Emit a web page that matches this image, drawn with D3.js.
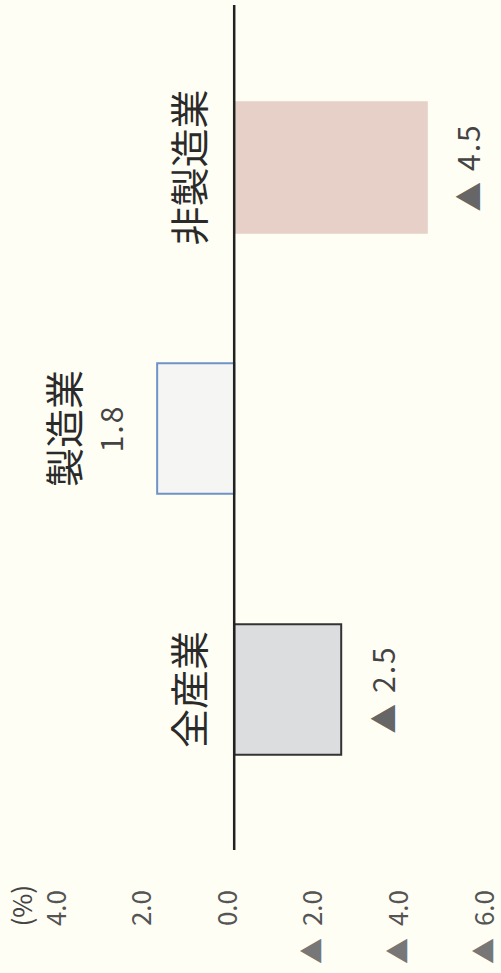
<!DOCTYPE html>
<html>
<head>
<meta charset="utf-8">
<script src="https://cdn.jsdelivr.net/npm/d3@7"></script>
<style>
  body { margin: 0; background: #fffef4; }
  svg { display: block; }
  text { font-family: "Noto Sans CJK JP", "Noto Sans", sans-serif; }
</style>
</head>
<body>
<svg width="501" height="973"></svg>
<script>
var categories = ['全産業', '製造業', '非製造業'];
var values = [-2.5, 1.8, -4.5];
var tickValues = [4, 2, 0, -2, -4, -6];
var unitLabel = '(%)';

var fills = ['#dcdddf', '#f5f6f4', '#e6d0c8'];
var strokes = ['#333333', '#6f93c6', '#e6d0c8'];

var svg = d3.select('svg');

// chart is drawn upright in a 973x501 frame, then turned a quarter left
var g = svg.append('g')
    .attr('transform', 'translate(0,973) rotate(-90)');

var x = d3.scaleBand()
    .domain(categories)
    .range([153, 936])
    .paddingInner(0.5)
    .paddingOuter(0.25);

var y = d3.scaleLinear()
    .domain([-6, 4])
    .range([491, 63]);

function fmt(v) {
    return Math.abs(v).toFixed(1);
}

var axis = g.append('g')
    .attr('transform', 'translate(90,0)')
    .call(d3.axisLeft(y).tickValues(tickValues).tickSize(0).tickPadding(7)
        .tickFormat(function (d) { return fmt(d); }));
axis.select('.domain').remove();
axis.selectAll('text')
    .attr('font-size', 26)
    .attr('fill', '#555')
    .attr('dy', '0.08em')
    .each(function (d) {
        if (d < 0) {
            var t = d3.select(this);
            var s = t.text();
            t.text('');
            t.append('tspan').attr('fill', '#777').text('▲');
            t.append('tspan').attr('dx', 12).text(s);
        }
    });

g.append('text')
    .attr('x', 88)
    .attr('y', 23)
    .attr('dy', '0.35em')
    .attr('text-anchor', 'end')
    .attr('font-size', 26)
    .attr('fill', '#444')
    .text(unitLabel);

var data = categories.map(function (c, i) { return { cat: c, v: values[i] }; });

g.selectAll('.bar')
    .data(data)
    .enter().append('rect')
    .attr('class', 'bar')
    .attr('x', function (d) { return x(d.cat); })
    .attr('width', x.bandwidth())
    .attr('y', function (d) { return y(Math.max(0, d.v)); })
    .attr('height', function (d) { return Math.abs(y(d.v) - y(0)); })
    .attr('fill', function (d, i) { return fills[i]; })
    .attr('stroke', function (d, i) { return strokes[i]; })
    .attr('stroke-width', 2);

g.append('line')
    .attr('x1', 123)
    .attr('x2', 968)
    .attr('y1', y(0))
    .attr('y2', y(0))
    .attr('stroke', '#222')
    .attr('stroke-width', 2.5);

// value labels
g.selectAll('.val')
    .data(data)
    .enter().append('text')
    .attr('class', 'val')
    .attr('x', function (d) { return x(d.cat) + x.bandwidth() / 2; })
    .attr('y', function (d) { return d.v < 0 ? y(d.v) + 43 : y(d.v) - 45; })
    .attr('dy', '0.35em')
    .attr('text-anchor', 'middle')
    .attr('font-size', 30)
    .attr('letter-spacing', 2)
    .attr('fill', '#444')
    .each(function (d) {
        var t = d3.select(this);
        if (d.v < 0) t.append('tspan').attr('fill', '#666').text('▲ ');
        t.append('tspan').text(fmt(d.v));
    });

// category labels
g.selectAll('.cat')
    .data(data)
    .enter().append('text')
    .attr('class', 'cat')
    .attr('x', function (d) { return x(d.cat) + x.bandwidth() / 2; })
    .attr('y', function (d) { return d.v < 0 ? y(0) - 44 : y(d.v) - 92; })
    .attr('dy', '0.35em')
    .attr('text-anchor', 'middle')
    .attr('font-size', 39)
    .attr('fill', '#2a2a2a')
    .text(function (d) { return d.cat; });
</script>
</body>
</html>
